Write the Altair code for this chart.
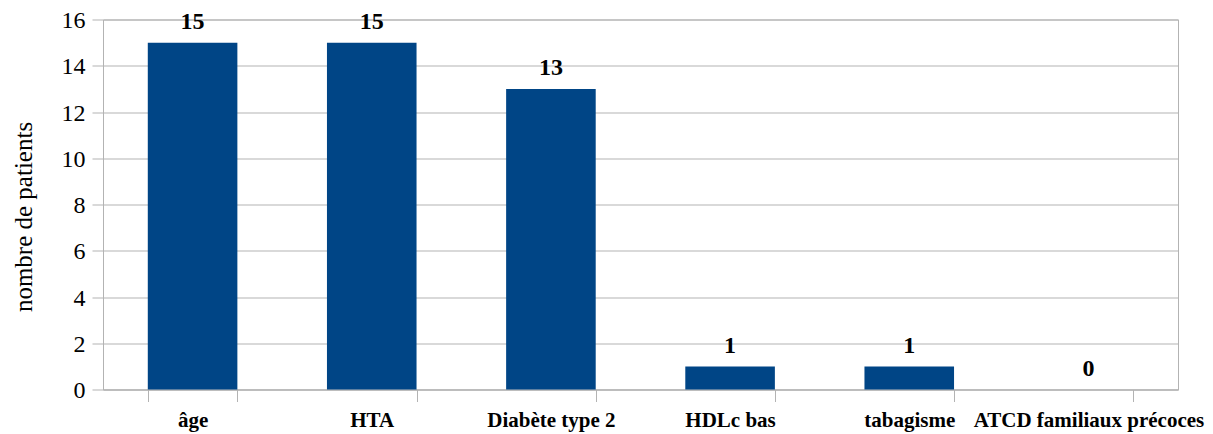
import altair as alt
import pandas as pd

categories = ["âge", "HTA", "Diabète type 2", "HDLc bas", "tabagisme", "ATCD familiaux précoces"]
values = [15, 15, 13, 1, 1, 0]
y_ticks = [0, 2, 4, 6, 8, 10, 12, 14, 16]

df = pd.DataFrame({"cat": categories, "val": values})

FONT = "Liberation Serif"
GRID = "#b3b3b3"

x = alt.X("cat:N", sort=categories, title=None,
          scale=alt.Scale(paddingInner=0.5, paddingOuter=0.25),
          axis=alt.Axis(labelAngle=0, labelFont=FONT, labelFontSize=21, labelFontWeight="bold",
                        labelColor="black", labelBaseline="alphabetic", labelPadding=25,
                        tickBand="extent", tickSize=12, tickColor=GRID, domainColor=GRID,
                        labelLimit=400, grid=False))
y = alt.Y("val:Q", title="nombre de patients",
          scale=alt.Scale(domain=[0, 16], nice=False),
          axis=alt.Axis(values=y_ticks, labelFont=FONT, labelFontSize=24, labelColor="black",
                        labelFontWeight="normal", labelBaseline="middle", labelAlign="right",
                        labelOffset=1, labelPadding=7, tickSize=11, tickColor=GRID, domainColor=GRID,
                        gridColor=GRID, titleFont=FONT, titleFontSize=25, titleFontWeight="normal",
                        titleColor="black", titleAngle=-90, titleAlign="center",
                        titleBaseline="alphabetic", titleX=-72, titleY=197))

bars = alt.Chart(df).mark_bar(color="#004586").encode(x=x, y=y)
labels = alt.Chart(df).mark_text(font=FONT, fontSize=24, fontWeight="bold", color="black",
                                 baseline="alphabetic", dy=-13.5).encode(
    x=alt.X("cat:N", sort=categories), y=alt.Y("val:Q"), text=alt.Text("val:Q"))

chart = (bars + labels).properties(
    width=1075, height=370,
    autosize=alt.AutoSizeParams(type="none"),
    padding={"left": 95, "top": 11.5, "right": 27, "bottom": 44.5},
).configure(font=FONT).configure_axis(labelFont=FONT, titleFont=FONT).configure_view(
    stroke=GRID, strokeWidth=1)

chart.save("out.html", embed_options={"renderer": "svg", "actions": False})
